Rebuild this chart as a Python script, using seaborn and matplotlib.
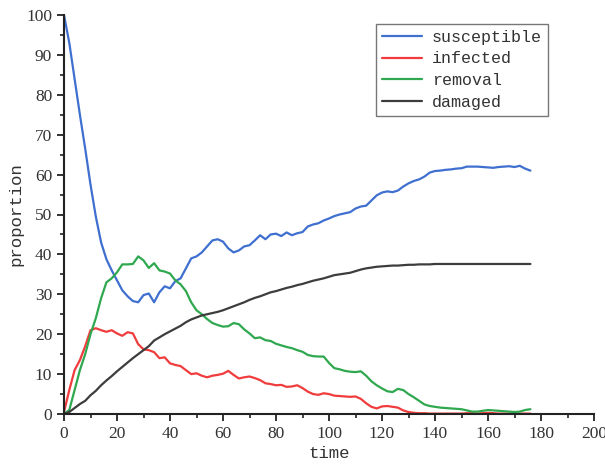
import matplotlib
matplotlib.use("Agg")
import matplotlib.pyplot as plt
from matplotlib.ticker import MultipleLocator
import seaborn as sns
import pandas as pd

time = [0, 2, 4, 6, 8, 10, 12, 14, 16, 18, 20, 22, 24, 26, 28, 30, 32, 34, 36, 38,
        40, 42, 44, 46, 48, 50, 52, 54, 56, 58, 60, 62, 64, 66, 68, 70, 72, 74, 76, 78,
        80, 82, 84, 86, 88, 90, 92, 94, 96, 98, 100, 102, 104, 106, 108, 110, 112, 114,
        116, 118, 120, 122, 124, 126, 128, 130, 132, 134, 136, 138, 140, 142, 144, 146,
        148, 150, 152, 154, 156, 158, 160, 162, 164, 166, 168, 170, 172, 174, 176]

susceptible = [100, 93, 84, 75, 66.5, 57.5, 49.5, 43, 38.8, 36, 33.5, 31, 29.5, 28.3, 28, 29.8,
               30.2, 28, 30.5, 32, 31.5, 33.3, 34, 36.5, 39, 39.5, 40.5, 42, 43.5, 43.8,
               43.2, 41.5, 40.5, 41, 42, 42.3, 43.5, 44.8, 43.8, 45, 45.2, 44.6, 45.5, 44.8,
               45.3, 45.6, 47, 47.5, 47.8, 48.5, 49, 49.6, 50, 50.3, 50.6, 51.5, 52, 52.2,
               53.5, 54.8, 55.5, 55.8, 55.6, 56, 57, 57.8, 58.4, 58.8, 59.5, 60.5, 60.9, 61,
               61.2, 61.3, 61.5, 61.6, 62, 62, 62, 61.9, 61.8, 61.7, 61.9, 62, 62.1, 61.9,
               62.2, 61.5, 61]

infected = [0.5, 6, 11, 13.5, 17, 21, 21.5, 21, 20.6, 21, 20.2, 19.6, 20.5, 20.2, 17.5,
            16.2, 16, 15.5, 14, 14.2, 12.7, 12.3, 12, 11, 10, 10.2, 9.6, 9.2, 9.6, 9.8,
            10.1, 10.8, 9.8, 8.9, 9.2, 9.4, 9.0, 8.5, 7.7, 7.5, 7.2, 7.3, 6.8, 6.9, 7.2,
            6.5, 5.6, 5, 4.8, 5.2, 5, 4.6, 4.5, 4.4, 4.3, 4.4, 3.8, 2.7, 1.8, 1.4, 1.9, 2,
            1.8, 1.6, 0.9, 0.5, 0.3, 0.2, 0.2, 0.1, 0.1, 0.1, 0.1, 0.1, 0.1, 0.1, 0.2, 0.2,
            0.1, 0.2, 0.3, 0.2, 0.1, 0.1, 0.1, 0.1, 0.1, 0.1, 0.1]

removal = [0, 1, 6, 11, 15, 20, 24, 29, 33, 34, 35.5, 37.5, 37.5, 37.6, 39.5, 38.5, 36.6,
           37.8, 36, 35.7, 35.2, 33.5, 32.5, 30.8, 28, 26, 25, 23.8, 22.8, 22.3, 21.9, 22,
           22.8, 22.5, 21.2, 20.2, 19, 19.2, 18.5, 18.3, 17.6, 17.2, 16.8, 16.5, 16, 15.6,
           14.8, 14.5, 14.4, 14.4, 12.8, 11.5, 11.2, 10.8, 10.6, 10.5, 10.7, 9.6, 8.2, 7.2,
           6.4, 5.7, 5.5, 6.3, 6, 5, 4.2, 3.3, 2.4, 2, 1.8, 1.6, 1.5, 1.4, 1.3, 1.2, 0.9,
           0.6, 0.6, 0.8, 1, 0.9, 0.8, 0.7, 0.6, 0.5, 0.6, 1, 1.2]

damaged = [0, 0.5, 1.5, 2.5, 3.3, 4.7, 5.8, 7.2, 8.4, 9.5, 10.7, 11.8, 12.9, 14, 15, 16,
           17, 18.4, 19.2, 20, 20.7, 21.4, 22.1, 23, 23.7, 24.2, 24.7, 25, 25.3, 25.6, 26,
           26.5, 27, 27.5, 28, 28.6, 29.1, 29.5, 30, 30.5, 30.8, 31.2, 31.6, 31.9, 32.3,
           32.6, 33, 33.4, 33.7, 34, 34.4, 34.8, 35, 35.2, 35.4, 35.8, 36.2, 36.5, 36.7,
           36.9, 37, 37.1, 37.2, 37.2, 37.3, 37.4, 37.4, 37.5, 37.5, 37.5, 37.6, 37.6, 37.6,
           37.6, 37.6, 37.6, 37.6, 37.6, 37.6, 37.6, 37.6, 37.6, 37.6, 37.6, 37.6, 37.6,
           37.6, 37.6, 37.6]

series_names = ["susceptible", "infected", "removal", "damaged"]
colors = ["#3f6fcf", "#f03c3c", "#2fa84f", "#3d3d3d"]

frames = []
for name, vals in zip(series_names, [susceptible, infected, removal, damaged]):
    frames.append(pd.DataFrame({"time": time, "proportion": vals, "series": name}))
df = pd.concat(frames, ignore_index=True)

sns.set_style("white")
plt.rcParams["font.family"] = ["Liberation Serif", "DejaVu Serif"]

fig = plt.figure(figsize=(6.05, 4.70), dpi=100)
ax = fig.add_axes([64 / 605, 56 / 470, 530 / 605, 399 / 470])

sns.lineplot(data=df, x="time", y="proportion", hue="series",
             hue_order=series_names, palette=colors, linewidth=1.6, ax=ax)

ax.set_xlim(0, 200)
ax.set_ylim(0, 100)
ax.xaxis.set_major_locator(MultipleLocator(20))
ax.xaxis.set_minor_locator(MultipleLocator(10))
ax.yaxis.set_major_locator(MultipleLocator(10))
ax.yaxis.set_minor_locator(MultipleLocator(5))

for side in ["top", "right"]:
    ax.spines[side].set_visible(False)
for side in ["left", "bottom"]:
    ax.spines[side].set_color("#222222")
    ax.spines[side].set_linewidth(1.5)

ax.tick_params(which="major", direction="out", length=5, width=1.3, colors="#222222",
               labelsize=12.5, labelcolor="#333333", left=True, bottom=True)
ax.tick_params(which="minor", direction="out", length=3, width=1.2, colors="#222222",
               left=True, bottom=True)

ax.set_xlabel("time", family=["Liberation Mono", "DejaVu Sans Mono"], fontsize=12.5,
              color="#333333", labelpad=3)
ax.set_ylabel("proportion", family=["Liberation Mono", "DejaVu Sans Mono"], fontsize=12.5,
              color="#333333", labelpad=2)

handles, labels = ax.get_legend_handles_labels()
leg = ax.legend(handles, labels, loc="upper right", bbox_to_anchor=(0.922, 0.99),
                frameon=True, fancybox=False, edgecolor="#777777", framealpha=1,
                handlelength=2.4, handletextpad=0.6, borderpad=0.35, labelspacing=0.4,
                borderaxespad=0.3,
                prop={"family": ["Liberation Mono", "DejaVu Sans Mono"], "size": 12})
leg.get_frame().set_linewidth(1.0)
for t in leg.get_texts():
    t.set_color("#333333")

fig.savefig("out.png", dpi=100)
